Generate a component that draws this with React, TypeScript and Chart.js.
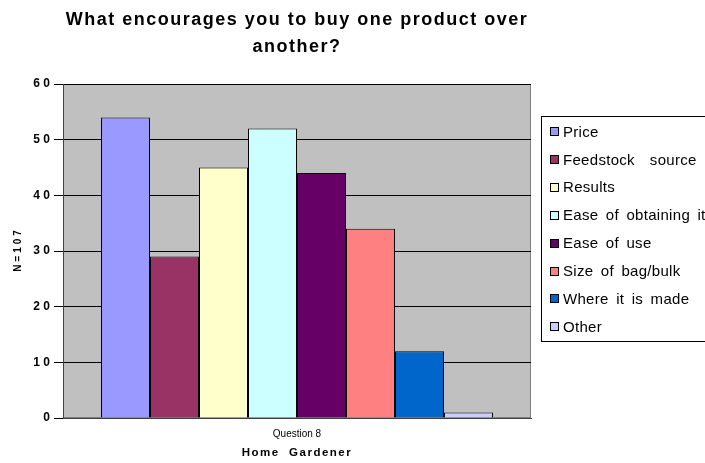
import React, { useEffect, useRef } from "react";
import { Chart, registerables } from "chart.js";

Chart.register(...registerables);

const categories = ["Question 8"];
const seriesNames = [
  "Price",
  "Feedstock  source",
  "Results",
  "Ease of obtaining it",
  "Ease of use",
  "Size of bag/bulk",
  "Where it is made",
  "Other",
];
const seriesValues = [54, 29, 45, 52, 44, 34, 12, 1];
const seriesColors = ["#9999FF", "#993366", "#FFFFCC", "#CCFFFF", "#660066", "#FF8080", "#0066CC", "#CCCCFF"];
const yTickValues = [0, 10, 20, 30, 40, 50, 60];
const titleLines = ["What encourages you to buy one product over", "another?"];
const yAxisTitle = "N=107";
const xAxisTitle = "Home  Gardener";

const FAMILY = '"Liberation Sans", Arial, sans-serif';

const plotBg = {
  id: "plotBg",
  beforeDraw(chart: any) {
    const { ctx, chartArea } = chart;
    const { left, top, right, bottom } = chartArea;
    ctx.save();
    ctx.fillStyle = "#C0C0C0";
    ctx.fillRect(left, top, right - left, bottom - top);
    ctx.strokeStyle = "#808080";
    ctx.lineWidth = 1;
    ctx.strokeRect(left + 0.5, top + 0.5, right - left - 1, bottom - top - 1);
    ctx.restore();
  },
};

const textPlugin = {
  id: "customTexts",
  afterDraw(chart: any) {
    const { ctx, chartArea } = chart;
    const cx = (chartArea.left + chartArea.right) / 2;
    const cy = (chartArea.top + chartArea.bottom) / 2;
    ctx.save();
    ctx.fillStyle = "#000";
    ctx.textAlign = "center";
    // chart title
    ctx.font = `bold 18px ${FAMILY}`;
    (ctx as any).letterSpacing = "1.5px";
    ctx.textBaseline = "alphabetic";
    ctx.fillText(titleLines[0], cx, 25);
    ctx.fillText(titleLines[1], cx, 52);
    // x axis title
    ctx.font = `bold 11.5px ${FAMILY}`;
    (ctx as any).letterSpacing = "1.5px";
    ctx.textBaseline = "middle";
    ctx.fillText(xAxisTitle, cx, 453);
    // y axis title
    ctx.save();
    ctx.translate(18, cy);
    ctx.rotate(-Math.PI / 2);
    ctx.font = `bold 10px ${FAMILY}`;
    (ctx as any).letterSpacing = "3px";
    ctx.fillText(yAxisTitle, 1.5, 0);
    ctx.restore();
    ctx.restore();
  },
};

const legendPlugin = {
  id: "customLegend",
  afterDraw(chart: any) {
    const { ctx } = chart;
    ctx.save();
    ctx.strokeStyle = "#000";
    ctx.lineWidth = 1;
    ctx.strokeRect(541.5, 116.5, 200, 225);
    ctx.font = `15px ${FAMILY}`;
    (ctx as any).letterSpacing = "0.3px";
    (ctx as any).wordSpacing = "3px";
    ctx.textBaseline = "middle";
    ctx.textAlign = "left";
    chart.data.datasets.forEach((ds: any, i: number) => {
      const y = 131.5 + i * 27.9;
      ctx.fillStyle = ds.backgroundColor;
      ctx.fillRect(550, Math.round(y - 4.5), 9, 9);
      ctx.strokeStyle = "#000";
      ctx.strokeRect(550.5, Math.round(y - 4.5) + 0.5, 8, 8);
      ctx.fillStyle = "#000";
      ctx.fillText(ds.label, 563, y + 1);
    });
    ctx.restore();
  },
};

export default function App() {
  const ref = useRef<HTMLCanvasElement>(null);
  useEffect(() => {
    document.body.style.margin = "0";
    if (!ref.current) return;
    const chart = new Chart(ref.current, {
      type: "bar",
      data: {
        labels: categories,
        datasets: seriesNames.map((name, i) => ({
          label: name,
          data: [seriesValues[i]],
          backgroundColor: seriesColors[i],
          borderColor: "#000",
          borderWidth: 1,
          categoryPercentage: 0.8376,
          barPercentage: 1,
        })),
      },
      options: {
        responsive: false,
        animation: false,
        layout: { padding: { top: 84, right: 174, left: 0, bottom: 0 } },
        plugins: {
          legend: { display: false },
          title: { display: false },
          tooltip: { enabled: false },
        },
        scales: {
          x: {
            grid: { display: false, drawTicks: false },
            border: { display: true, color: "#404040", width: 1 },
            ticks: { font: { family: FAMILY, size: 10 }, color: "#000", padding: 10 },
            title: { display: false },
            afterFit: (s: any) => {
              s.height = 45;
            },
          },
          y: {
            min: 0,
            max: 60,
            afterBuildTicks: (s: any) => {
              s.ticks = yTickValues.map((v) => ({ value: v }));
            },
            ticks: {
              callback: (v: any) => String(v).split("").join(" "),
              font: { family: FAMILY, size: 12, weight: "bold" },
              color: "#000",
              padding: 4,
            },
            grid: { color: "#000", tickLength: 9, drawTicks: true },
            border: { display: true, color: "#404040", width: 1 },
            title: { display: false },
            afterFit: (s: any) => {
              s.width = 63;
            },
          },
        },
      } as any,
      plugins: [plotBg, textPlugin, legendPlugin],
    });
    return () => chart.destroy();
  }, []);
  return (
    <div style={{ position: "absolute", left: 0, top: 0, width: 705, height: 463 }}>
      <canvas ref={ref} width={705} height={463} style={{ display: "block" }} />
    </div>
  );
}
